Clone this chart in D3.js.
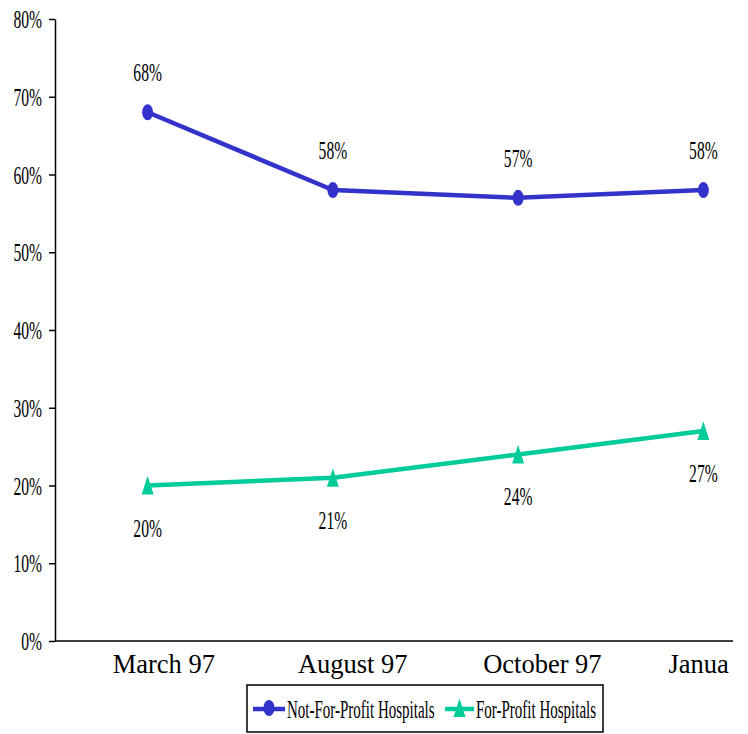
<!DOCTYPE html>
<html>
<head>
<meta charset="utf-8">
<script src="https://cdn.jsdelivr.net/npm/d3@7/dist/d3.min.js"></script>
<style>
  html, body { margin: 0; padding: 0; background: #fff; }
  svg { display: block; }
  text { font-family: "Liberation Serif", "Times New Roman", serif; fill: #000; }
</style>
</head>
<body>
<svg id="chart" width="748" height="734"></svg>
<script>
const categories = ["March 97", "August 97", "October 97", "January 98"];
const categoryLabels = ["March 97", "August 97", "October 97", "Janua"];
const notForProfit = [0.68, 0.58, 0.57, 0.58];
const forProfit = [0.20, 0.21, 0.24, 0.27];
const yTicks = [0, 0.1, 0.2, 0.3, 0.4, 0.5, 0.6, 0.7, 0.8];
const seriesNames = ["Not-For-Profit Hospitals", "For-Profit Hospitals"];
const seriesColors = ["#3333CC", "#00CC99"];

const svg = d3.select("#chart");
const SX = 0.6; // condensed text factor

const x = d3.scalePoint().domain(categories).range([55, 796]).padding(0.5);
const y = d3.scaleLinear().domain([0, 0.8]).range([641, 19]);

// Y axis
const yAxis = svg.append("g").attr("transform", "translate(55,0)")
  .call(d3.axisLeft(y).tickValues(yTicks).tickSize(6).tickSizeOuter(0)
    .tickFormat(d => Math.round(d * 100) + "%"));
yAxis.select(".domain").attr("stroke", "#000").attr("stroke-width", 1.5);
yAxis.selectAll(".tick line").attr("stroke", "#000").attr("stroke-width", 1.5);
yAxis.selectAll(".tick text")
  .attr("font-family", "Liberation Serif")
  .attr("font-size", 26)
  .attr("fill", "#000")
  .attr("dy", "0.33em")
  .attr("x", -13 / SX)
  .attr("transform", `scale(${SX},1)`);

// X axis line
const xAxis = svg.append("g").attr("transform", "translate(0,641)")
  .call(d3.axisBottom(x).tickSize(0).tickFormat(""));
xAxis.select(".domain").attr("d", "M55,0H733").attr("stroke", "#000").attr("stroke-width", 1.5);
xAxis.selectAll(".tick").remove();

// Category labels
svg.append("g")
  .selectAll("text").data(categories).join("text")
  .attr("x", d => x(d) - 35)
  .attr("y", 673)
  .attr("font-size", 26.5)
  .text((d, i) => categoryLabels[i]);

// Lines
const line = d3.line().x((d, i) => x(categories[i])).y(d => y(d));
const allSeries = [notForProfit, forProfit];
allSeries.forEach((vals, s) => {
  svg.append("path").datum(vals)
    .attr("d", line)
    .attr("fill", "none")
    .attr("stroke", seriesColors[s])
    .attr("stroke-width", 4.5)
    .attr("stroke-linejoin", "round");
});

// Markers
function drawMarker(g, s, cx, cy) {
  if (s === 0) {
    g.append("ellipse").attr("cx", cx).attr("cy", cy).attr("rx", 5.5).attr("ry", 8)
      .attr("fill", seriesColors[0]);
  } else {
    g.append("path").attr("d", `M${cx},${cy - 9.5}L${cx + 6},${cy + 9}L${cx - 6},${cy + 9}Z`)
      .attr("fill", seriesColors[1]);
  }
}
const markers = svg.append("g");
notForProfit.forEach((v, i) => drawMarker(markers, 0, x(categories[i]), y(v)));
forProfit.forEach((v, i) => drawMarker(markers, 1, x(categories[i]), y(v)));

// Data labels
function condensedText(g, tx, ty, txt, size, anchor) {
  g.append("text")
    .attr("transform", `translate(${tx},${ty}) scale(${SX},1)`)
    .attr("text-anchor", anchor)
    .attr("font-size", size)
    .text(txt);
}
const labels = svg.append("g");
notForProfit.forEach((v, i) => condensedText(labels, x(categories[i]), y(v) - 31, Math.round(v * 100) + "%", 26, "middle"));
forProfit.forEach((v, i) => condensedText(labels, x(categories[i]), y(v) + 51, Math.round(v * 100) + "%", 26, "middle"));

// Legend
const leg = svg.append("g");
leg.append("rect").attr("x", 247).attr("y", 685).attr("width", 356).attr("height", 47)
  .attr("fill", "#fff").attr("stroke", "#000").attr("stroke-width", 1.5);
const legItems = [
  { x0: 253, x1: 285, tx: 287 },
  { x0: 445, x1: 474, tx: 476 }
];
legItems.forEach((it, s) => {
  leg.append("line").attr("x1", it.x0).attr("x2", it.x1).attr("y1", 709).attr("y2", 709)
    .attr("stroke", seriesColors[s]).attr("stroke-width", 4.5);
  drawMarker(leg, s, (it.x0 + it.x1) / 2, 708);
  condensedText(leg, it.tx, 718, seriesNames[s], 25, "start");
});
</script>
</body>
</html>
